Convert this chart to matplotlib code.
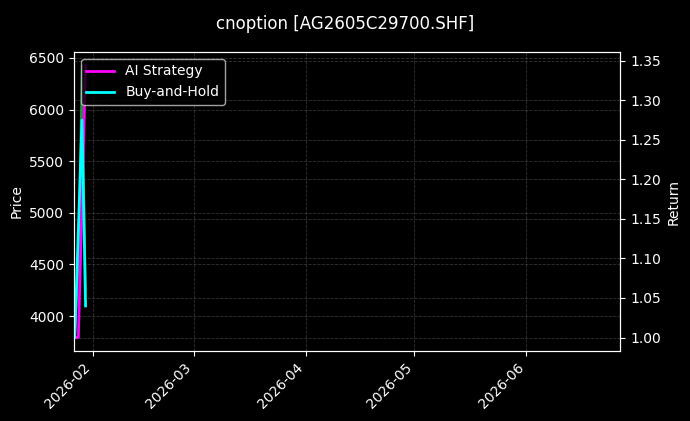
import pandas as pd
import matplotlib
matplotlib.use('Agg')
import matplotlib.pyplot as plt
import matplotlib.dates as mdates

# data (only four trading days are drawn)
dates = pd.to_datetime(['2026-01-27', '2026-01-28', '2026-01-29', '2026-01-30'])
price = [3792, 4480, 6426, 4250]
ai_return = [1.0, 1.0, 1.17, 1.344]
bh_return = [1.0, 1.135, 1.275, 1.04]

x_start = pd.Timestamp('2026-01-26 18:00')
x_end = pd.Timestamp('2026-06-27')

plt.style.use('dark_background')
fig = plt.figure(figsize=(6.9, 4.21), dpi=100)
ax1 = fig.add_axes([0.107, 0.166, 0.792, 0.7105])
ax2 = ax1.twinx()

# price on the left axis
ax1.plot(dates, price, color='#22b84a', linewidth=1.5, alpha=0.8, label='Price')
ax1.set_ylabel('Price')
ax1.grid(True, linestyle='--', linewidth=0.6, color='#555555', alpha=0.6)

# returns on the right axis
ax2.plot(dates, ai_return, color='#ff00ff', linewidth=2, label='AI Strategy')
ax2.plot(dates, bh_return, color='#00ffff', linewidth=2, label='Buy-and-Hold')
ax2.set_ylabel('Return')
ax2.grid(True, linestyle='--', linewidth=0.6, color='#555555', alpha=0.6)

ax1.set_xlim(x_start, x_end)
ax1.set_yticks([4000, 4500, 5000, 5500, 6000, 6500])
ax1.xaxis.set_major_locator(mdates.MonthLocator())
ax1.xaxis.set_major_formatter(mdates.DateFormatter('%Y-%m'))
for lbl in ax1.get_xticklabels():
    lbl.set_rotation(45)
    lbl.set_ha('right')

ax2.legend(loc='upper left')
fig.suptitle('cnoption [AG2605C29700.SHF]', fontsize=12, y=0.965)

fig.savefig('out.png', dpi=100)
